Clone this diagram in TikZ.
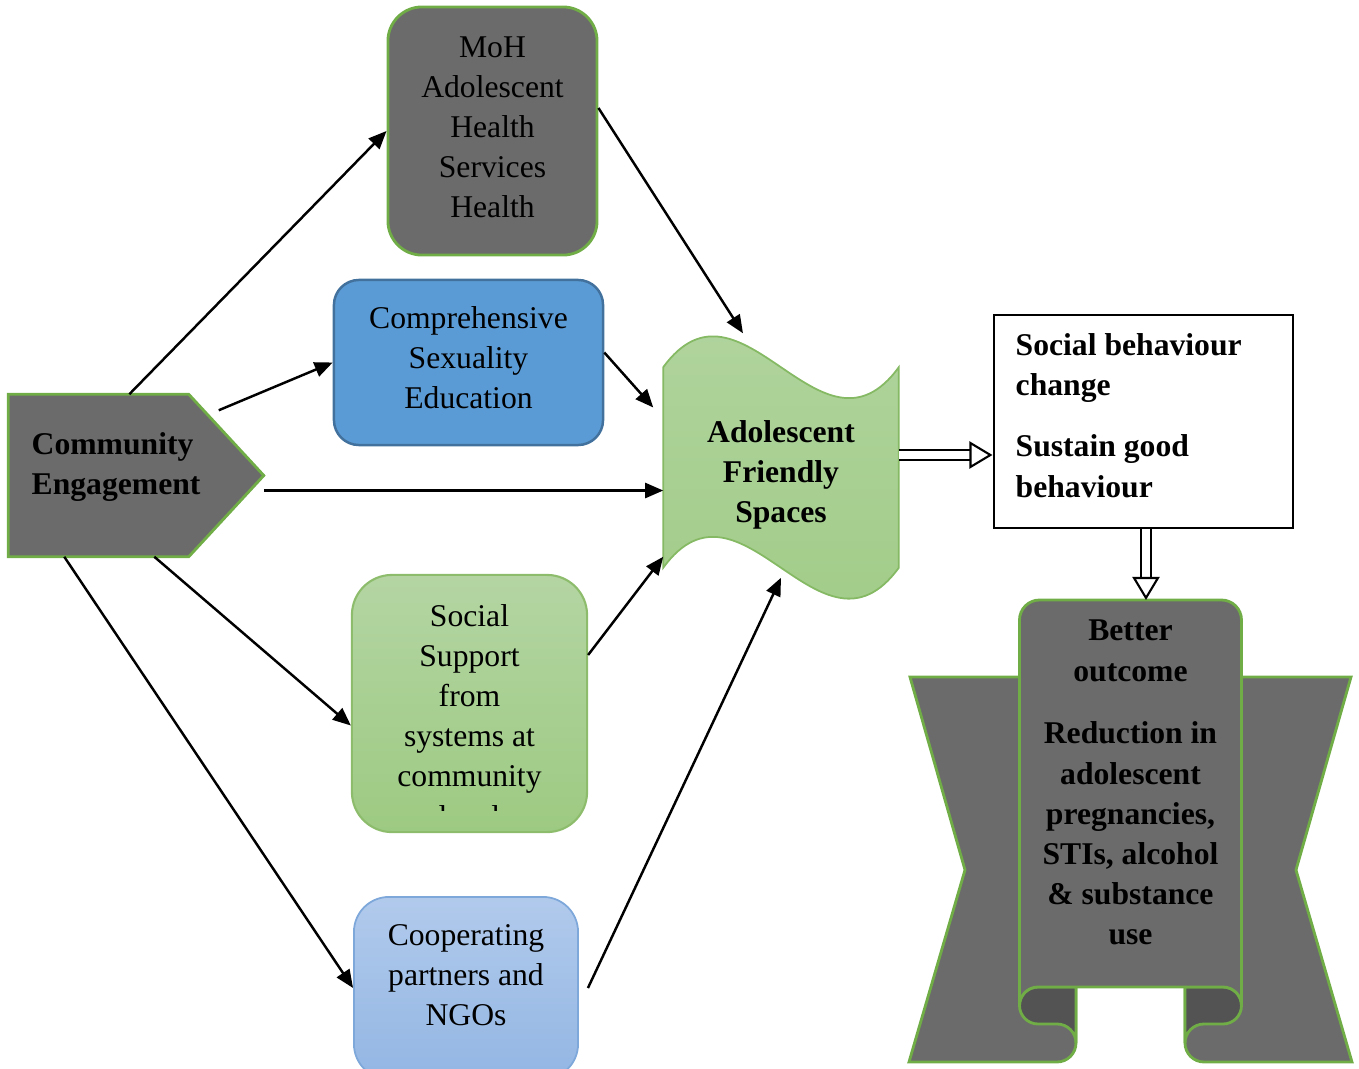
\documentclass[tikz,border=0pt]{standalone}
\usepackage{fontspec}
\setmainfont{Liberation Serif}
\usetikzlibrary{arrows.meta,calc,positioning}
\definecolor{boxgrey}{HTML}{6B6B6B}
\definecolor{foldgrey}{HTML}{535353}
\definecolor{rimgreen}{HTML}{70AD47}
\definecolor{cseblue}{HTML}{5B9BD5}
\definecolor{cserim}{HTML}{41719C}
\definecolor{sstop}{HTML}{B4D5A3}
\definecolor{ssbot}{HTML}{9DCA82}
\definecolor{afstop}{HTML}{B3D5A1}
\definecolor{afsbot}{HTML}{9FCB85}
\definecolor{cooptop}{HTML}{B1CAEC}
\definecolor{coopbot}{HTML}{93B6E3}
\definecolor{cooprim}{HTML}{7EA7DA}

\tikzset{
  txt/.style={font=\fontsize{9pt}{11.4pt}\selectfont, align=center, inner sep=0pt},
  btxt/.style={txt, font=\fontsize{9pt}{11.4pt}\selectfont\bfseries},
  greybox/.style={draw=rimgreen, fill=boxgrey, line width=0.8pt, rounded corners=0.34cm},
  greyshape/.style={draw=rimgreen, fill=boxgrey, line width=0.8pt},
  arr/.style={-{Triangle[length=0.18cm,width=0.15cm]}, line width=0.7pt},
  hollow/.style={double, double distance=0.07cm, line width=0.6pt, -{Triangle[open,length=0.23cm,width=0.27cm]}},
}

\begin{document}
\begin{tikzpicture}[x=0.01cm,y=-0.01cm]
\useasboundingbox (0,0) rectangle (1359,1069);
\clip (0,0) rectangle (1359,1069);

% programmes
\node[greybox, minimum width=2.09cm, minimum height=2.48cm] (moh) at (492.5,131) {};
\node[txt] (mohtext) at (492.5,127) {MoH\\Adolescent\\Health\\Services\\Health};
\node[draw=cserim, fill=cseblue, line width=0.7pt, rounded corners=0.25cm, minimum width=2.69cm, minimum height=1.65cm] (cse) at (468.5,362.5) {};
\node[txt] (csetext) at (468.5,357.5) {Comprehensive\\Sexuality\\Education};

\node[draw=rimgreen!80, top color=sstop, bottom color=ssbot, line width=0.6pt, rounded corners=0.4cm, minimum width=2.35cm, minimum height=2.57cm] (ss) at (469.5,703.5) {};
\begin{scope}
  \clip (352,575) rectangle (587,810);
  \node[txt] (sstext) at (469.5,716) {Social\\Support\\from\\systems at\\community\\level};
\end{scope}

\node[draw=cooprim, top color=cooptop, bottom color=coopbot, line width=0.5pt, rounded corners=0.35cm, minimum width=2.24cm, minimum height=1.82cm] (coop) at (466,988) {};
\node[txt] (cooptext) at (466,975) {Cooperating\\partners and\\NGOs};

% community engagement
\node[minimum width=2.54cm, minimum height=1.61cm, inner sep=0pt] (ce) at (136,475.5) {};
\draw[greyshape] (ce.north west) -- ([xshift=-0.75cm]ce.north east) -- (ce.east) -- ([xshift=-0.75cm]ce.south east) -- (ce.south west) -- cycle;
\node[btxt, align=left, anchor=west] (cetext) at (31,467) {Community\\Engagement};

% adolescent friendly spaces
\node[minimum width=2.34cm, minimum height=2.61cm, inner sep=0pt] (afs) at (781,467.5) {};
\draw[draw=rimgreen!85, line width=0.5pt, top color=afstop, bottom color=afsbot]
  ([yshift=-0.31cm]afs.north west) .. controls +(78,-107) and +(-78,107) .. ([yshift=-0.31cm]afs.north east)
  -- ([yshift=0.31cm]afs.south east) .. controls +(-78,107) and +(78,-107) .. ([yshift=0.31cm]afs.south west) -- cycle;
\node[btxt] (afstext) at (781,475) {Adolescent\\Friendly\\Spaces};

% behaviour
\node[draw, line width=0.8pt, minimum width=2.99cm, minimum height=2.13cm] (sbc) at (1143.5,421.5) {};
\node[btxt, align=left, anchor=north west] (sbctext) at (1015,333) {Social behaviour\\change\\[6pt]Sustain good\\behaviour};

% ribbon
\draw[greyshape] (909,1062) -- (965,870) -- (910,677) -- (1076,677) -- (1076,1043) arc[start angle=0,end angle=90,radius=19] -- cycle;
\draw[greyshape] (1352,1062) -- (1296,870) -- (1351,677) -- (1185,677) -- (1185,1043) arc[start angle=180,end angle=90,radius=19] -- cycle;
\draw[greyshape, fill=foldgrey] (1038,987) -- (1076,987) -- (1076,1043) arc[start angle=0,end angle=-90,radius=19] -- (1038,1024) arc[start angle=90,end angle=270,radius=18.5] -- cycle;
\draw[greyshape, fill=foldgrey] (1223,987) -- (1185,987) -- (1185,1043) arc[start angle=180,end angle=270,radius=19] -- (1223,1024) arc[start angle=90,end angle=-90,radius=18.5] -- cycle;
\draw[greyshape] (1019.5,1005.5) -- (1019.5,620) arc[start angle=180,end angle=270,radius=20] -- (1221.5,600) arc[start angle=270,end angle=360,radius=20]
  -- (1241.5,1005.5) arc[start angle=0,end angle=-90,radius=18.5] -- (1038,987) arc[start angle=270,end angle=180,radius=18.5] -- cycle;
\coordinate (botop) at (1130.5,600);
\node[btxt] (bo) at (1130.5,782.5) {Better\\outcome\\[6.5pt]Reduction in\\adolescent\\pregnancies,\\STIs, alcohol\\\& substance\\use};

% arrows
\draw[arr] ([xshift=1.21cm]ce.north west) -- (moh.west);
\draw[arr] ([xshift=-0.45cm,yshift=-0.16cm]ce.north east) -- (cse.west);
\draw[arr] ([yshift=-0.15cm]ce.east) -- ([yshift=-0.15cm]ce.east -| afs.west);
\draw[arr] ([xshift=1.46cm]ce.south west) -- ([yshift=-0.22cm]ss.west);
\draw[arr] ([xshift=0.56cm]ce.south west) -- (coop.west);
\draw[arr] ([yshift=0.23cm]moh.east) -- ([xshift=-0.38cm,yshift=0.03cm]afs.north);
\draw[arr] ([yshift=0.1cm]cse.east) -- ([xshift=-0.1cm,yshift=0.6cm]afs.west);
\draw[arr] ([yshift=0.485cm]ss.east) -- ([yshift=0.42cm]afs.south west);
\draw[arr] ([xshift=0.09cm]coop.east) -- ([yshift=0.21cm]afs.south);

\draw[hollow] ([yshift=0.125cm]afs.east) -- ([yshift=0.125cm]afs.east -| sbc.west);
\draw[hollow] ([xshift=0.025cm]sbc.south) -- ([xshift=0.025cm]sbc.south |- botop);
\end{tikzpicture}
\end{document}
